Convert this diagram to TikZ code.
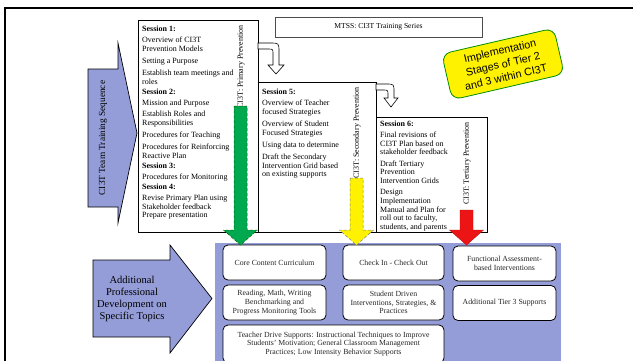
\documentclass[tikz,border=0pt]{standalone}
\usepackage{fontspec}
\setmainfont{Liberation Serif}
\setsansfont{Liberation Sans}
\usetikzlibrary{positioning}

\definecolor{periwinkle}{RGB}{148,157,216}
\definecolor{tiergreen}{RGB}{0,168,80}
\definecolor{tierred}{RGB}{236,20,20}

\tikzset{
  session/.style={draw, line width=0.7pt, fill=white},
  sessiontext/.style={anchor=north west, align=left, inner sep=2pt, font=\fontsize{8}{8.9}\selectfont},
  tierlabel/.style={rotate=90, anchor=east, inner sep=1pt, font=\fontsize{8}{9}\selectfont},
  blockarrow/.style={draw, line width=0.7pt, fill=periwinkle},
  uturn/.style={draw, line width=0.6pt, fill=white},
  support/.style={draw, line width=0.8pt, fill=white, rounded corners=5pt, align=center,
    inner sep=1pt, font=\fontsize{7.8}{8.8}\selectfont, text=black!85},
  greenarrow/.style={fill=tiergreen, draw=green!40!black, densely dashed, line width=0.5pt},
  yellowarrow/.style={fill=yellow, draw=black!50, densely dashed, line width=0.5pt},
  redarrow/.style={fill=tierred, draw=tierred!80!black, line width=0.4pt},
}

% block arrow from a tier label down into the supports panel
\newcommand{\tierarrow}[3]{%
  \draw[#1] ({#2-6.5},#3) -- ({#2+6.5},#3) -- ({#2+6.5},230) -- ({#2+17},230)
    -- (#2,245) -- ({#2-17},230) -- ({#2-6.5},230) -- cycle;}

\begin{document}
\begin{tikzpicture}[x=1pt, y=-1pt]
\useasboundingbox (0,0) rectangle (633,360);
\clip (0,0) rectangle (633,360);
\draw[line width=2.5pt] (5,365) -- (5,8) -- (640,8);

\node[draw=black!70, line width=0.8pt, minimum width=207pt, minimum height=20pt,
  font=\fontsize{7.6}{9}\selectfont] (title) at (378.5,27) {MTSS: CI3T Training Series};

\node[rotate=13, draw=green!55!black, line width=0.8pt, fill=yellow, rounded corners=9pt,
  minimum width=115pt, minimum height=47pt, align=center, inner sep=1pt,
  font=\sffamily\fontsize{10.8}{13.5}\selectfont] (stamp) at (503,64)
  {Implementation\\Stages of Tier 2\\and 3 within CI3T};

% training sequence
\draw[blockarrow] (88,69) -- (118,69) -- (118,43) -- (137,133) -- (118,223) -- (118,207) -- (88,207) -- cycle;
\node[rotate=90, font=\fontsize{9.3}{10}\selectfont] (seq) at (103,138) {CI3T Team Training Sequence};

\draw[session] (376,117) rectangle (487,232);
\draw[session] (258,82) rectangle (376,232);
\draw[session] (138,20) rectangle (258,232);

\node[sessiontext] (s1) at (140,24) {\textbf{Session 1:}\\[2pt]
  Overview of CI3T\\ Prevention Models\\[3pt]
  Setting a Purpose\\[3pt]
  Establish team meetings and\\ roles\\[1pt]
  \textbf{Session 2:}\\[2pt]
  Mission and Purpose\\[3pt]
  Establish Roles and\\ Responsibilities\\[3pt]
  Procedures for Teaching\\[3pt]
  Procedures for Reinforcing\\ Reactive Plan\\[1pt]
  \textbf{Session 3:}\\[2pt]
  Procedures for Monitoring\\[1pt]
  \textbf{Session 4:}\\[2pt]
  Revise Primary Plan using\\ Stakeholder feedback\\ Prepare presentation};
\node[sessiontext] (s5) at (260,87) {\textbf{Session 5:}\\[2pt]
  Overview of Teacher\\ focused Strategies\\[3pt]
  Overview of Student\\ Focused Strategies\\[3pt]
  Using data to determine\\[3pt]
  Draft the Secondary\\ Intervention Grid based\\ on existing supports};
\node[sessiontext, font=\fontsize{8}{8.7}\selectfont] (s6) at (378,119) {\textbf{Session 6:}\\[2pt]
  Final revisions of\\ CI3T Plan based on\\ stakeholder feedback\\[2.5pt]
  Draft Tertiary\\ Prevention\\ Intervention Grids\\[2.5pt]
  Design\\ Implementation\\ Manual and Plan for\\ roll out to faculty,\\ students, and parents};

\node[tierlabel] (prim) at (241,24) {CI3T: Primary Prevention};
\node[tierlabel] (sec) at (357,86) {CI3T: Secondary Prevention};
\node[tierlabel] (tert) at (467,121) {CI3T: Tertiary Prevention};

% hand-over arrows between sessions
\draw[uturn] (258,43) -- (270,43) .. controls (279,43) .. (279,52) -- (279,65) -- (284,65) -- (276,74)
  -- (268,65) -- (273,65) -- (273,54) .. controls (273,49) .. (268,49) -- (258,49) -- cycle;
\draw[uturn] (376,84) -- (386,84) .. controls (394,84) .. (394,92) -- (394,98) -- (398,98) -- (391,107)
  -- (384,98) -- (388,98) -- (388,95) .. controls (388,90) .. (383,90) -- (376,90) -- cycle;

% professional development
\draw[blockarrow] (93,260) -- (170,260) -- (170,245) -- (212,298.5) -- (170,353) -- (170,337) -- (93,337) -- cycle;
\node[align=center, font=\fontsize{10.5}{12}\selectfont] (pd) at (132,299)
  {Additional\\Professional\\Development on\\Specific Topics};

\fill[periwinkle] (215,243) rectangle (561,365);
\node[support, minimum width=103pt, minimum height=35pt] (core) at (274.5,262.5) {Core Content Curriculum};
\node[support, minimum width=101pt, minimum height=35pt] (cico) at (393.5,262.5) {Check In - Check Out};
\node[support, minimum width=103pt, minimum height=35pt] (fba) at (504.5,263.5) {Functional Assessment-\\based Interventions};
\node[support, minimum width=103pt, minimum height=35pt] (rmw) at (274.5,302.5)
  {Reading, Math, Writing\\Benchmarking and\\Progress Monitoring Tools};
\node[support, minimum width=101pt, minimum height=35pt] (sdi) at (393.5,302.5)
  {Student Driven\\Interventions, Strategies, \&\\Practices};
\node[support, minimum width=103pt, minimum height=35pt] (t3) at (504.5,303) {Additional Tier 3 Supports};
\node[support, minimum width=221pt, minimum height=38pt] (tds) at (333.5,344)
  {Teacher Drive Supports: Instructional Techniques to Improve\\Students' Motivation; General Classroom Management\\Practices; Low Intensity Behavior Supports};

\tierarrow{greenarrow}{240.5}{106}
\tierarrow{yellowarrow}{356.5}{178}
\tierarrow{redarrow}{466.5}{210}
\end{tikzpicture}
\end{document}
